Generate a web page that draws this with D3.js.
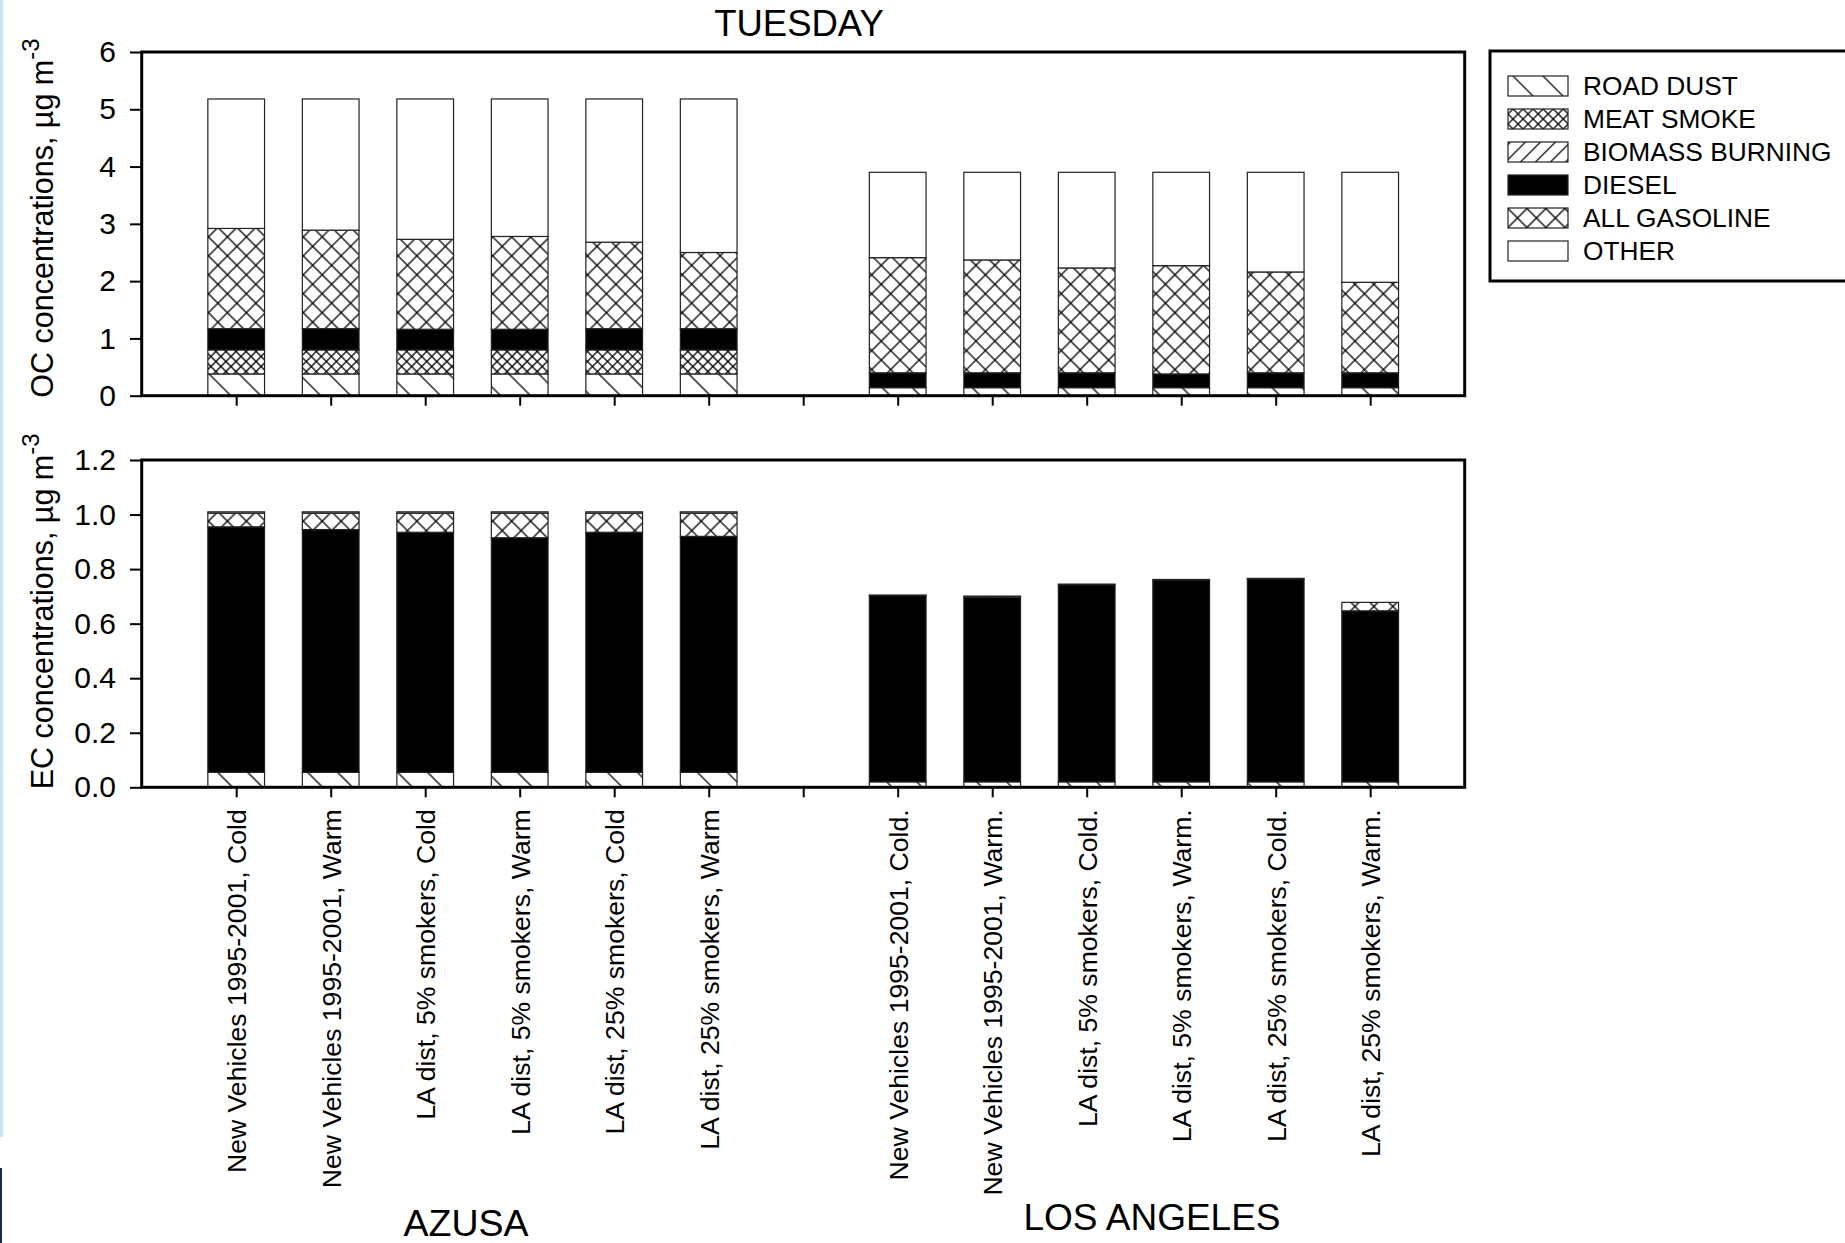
<!DOCTYPE html>
<html>
<head>
<meta charset="utf-8">
<script src="https://cdn.jsdelivr.net/npm/d3@7"></script>
<style>
  body { margin: 0; background: #fff; }
  svg { display: block; font-family: "Liberation Sans", Arial, Helvetica, sans-serif; }
</style>
</head>
<body>
<svg id="chart" width="1845" height="1243"></svg>
<script>
// x categories, the empty one is the gap between the two sites
const azusaCases = ["New Vehicles 1995-2001, Cold", "New Vehicles 1995-2001, Warm", "LA dist, 5% smokers, Cold",
  "LA dist, 5% smokers, Warm", "LA dist, 25% smokers, Cold", "LA dist, 25% smokers, Warm"];
const laCases = ["New Vehicles 1995-2001, Cold.", "New Vehicles 1995-2001, Warm.", "LA dist, 5% smokers, Cold.",
  "LA dist, 5% smokers, Warm.", "LA dist, 25% smokers, Cold.", "LA dist, 25% smokers, Warm."];
const categories = [...azusaCases, "", ...laCases];
const cases = [...azusaCases, ...laCases];

const sources = ["ROAD DUST", "MEAT SMOKE", "BIOMASS BURNING", "DIESEL", "ALL GASOLINE", "OTHER"];

// OC, ug m-3 (6 Azusa cases then 6 Los Angeles cases)
const ocRoadDust = [0.38, 0.38, 0.38, 0.38, 0.38, 0.38, 0.14, 0.14, 0.14, 0.14, 0.14, 0.14];
const ocMeatSmoke = [0.42, 0.42, 0.42, 0.42, 0.42, 0.42, 0, 0, 0, 0, 0, 0];
const ocBiomass = [0, 0, 0, 0, 0, 0, 0, 0, 0, 0, 0, 0];
const ocDiesel = [0.37, 0.37, 0.36, 0.36, 0.37, 0.37, 0.26, 0.26, 0.26, 0.24, 0.26, 0.26];
const ocGasoline = [1.75, 1.72, 1.57, 1.62, 1.51, 1.33, 2.01, 1.97, 1.83, 1.89, 1.76, 1.58];
const ocOther = [2.26, 2.29, 2.45, 2.40, 2.50, 2.68, 1.49, 1.53, 1.67, 1.63, 1.74, 1.92];

// EC, ug m-3
const ecRoadDust = [0.055, 0.055, 0.055, 0.055, 0.055, 0.055, 0.02, 0.02, 0.02, 0.02, 0.02, 0.02];
const ecMeatSmoke = [0, 0, 0, 0, 0, 0, 0, 0, 0, 0, 0, 0];
const ecBiomass = [0, 0, 0, 0, 0, 0, 0, 0, 0, 0, 0, 0];
const ecDiesel = [0.90, 0.89, 0.88, 0.86, 0.88, 0.865, 0.683, 0.677, 0.723, 0.74, 0.744, 0.627];
const ecGasoline = [0.05, 0.06, 0.07, 0.09, 0.07, 0.085, 0.002, 0.004, 0.002, 0.002, 0.002, 0.031];
const ecOther = [0.005, 0.005, 0.005, 0.005, 0.005, 0.005, 0, 0, 0, 0, 0, 0];

const ocTicks = [0, 1, 2, 3, 4, 5, 6];
const ecTicks = [0, 0.2, 0.4, 0.6, 0.8, 1.0, 1.2];

const svg = d3.select("#chart");
const defs = svg.append("defs");

const left = 141.7;
const right = 1464.7;

// edge strip on the left of the picture
svg.append("rect").attr("x", 0).attr("y", 0).attr("width", 3).attr("height", 1137).attr("fill", "#c6e7f8");
svg.append("rect").attr("x", 0).attr("y", 1168).attr("width", 2).attr("height", 75).attr("fill", "#15295c");

// hatch patterns, one per source
function hatch(id, size, angle, cross) {
  const p = defs.append("pattern")
    .attr("id", id)
    .attr("patternUnits", "userSpaceOnUse")
    .attr("width", size)
    .attr("height", size)
    .attr("patternTransform", `rotate(${angle})`);
  p.append("rect").attr("width", size).attr("height", size).attr("fill", "#fff");
  p.append("line")
    .attr("x1", size / 2).attr("y1", 0).attr("x2", size / 2).attr("y2", size)
    .attr("stroke", "#000").attr("stroke-width", 1.3);
  if (cross) {
    p.append("line")
      .attr("x1", 0).attr("y1", size / 2).attr("x2", size).attr("y2", size / 2)
      .attr("stroke", "#000").attr("stroke-width", 1.3);
  }
}
hatch("roadDust", 21.2, -45, false);
hatch("meatSmoke", 7.1, 45, true);
hatch("biomass", 10.6, 45, false);
hatch("gasoline", 13.4, 45, true);

const fills = {
  "ROAD DUST": "url(#roadDust)",
  "MEAT SMOKE": "url(#meatSmoke)",
  "BIOMASS BURNING": "url(#biomass)",
  "DIESEL": "#000",
  "ALL GASOLINE": "url(#gasoline)",
  "OTHER": "#fff",
};

const x = d3.scalePoint().domain(categories).range([left, right]).padding(1);
const barWidth = x.step() * 0.6;

function makeRows(series) {
  return cases.map((c, i) => {
    const row = { category: c };
    sources.forEach((s, k) => (row[s] = series[k][i]));
    return row;
  });
}

function drawPanel(top, bottom, yMax, ticks, fmt, series, title, showLabels) {
  const y = d3.scaleLinear().domain([0, yMax]).range([bottom, top]);
  const stacked = d3.stack().keys(sources)(makeRows(series));
  const g = svg.append("g");

  stacked.forEach((layer) => {
    g.append("g")
      .selectAll("rect")
      .data(layer.filter((d) => d[1] - d[0] > 0))
      .join("rect")
      .attr("x", (d) => x(d.data.category) - barWidth / 2)
      .attr("y", (d) => y(d[1]))
      .attr("width", barWidth)
      .attr("height", (d) => y(d[0]) - y(d[1]))
      .attr("fill", fills[layer.key])
      .attr("stroke", "#222")
      .attr("stroke-width", 1.2);
  });

  // y axis
  const yAxis = g.append("g")
    .attr("transform", `translate(${left},0)`)
    .call(d3.axisLeft(y).tickValues(ticks).tickFormat(fmt).tickSize(11.7).tickPadding(14));
  yAxis.select(".domain").remove();
  yAxis.selectAll("line").attr("stroke", "#000").attr("stroke-width", 2);
  yAxis.selectAll("text").attr("font-size", 30).attr("fill", "#000");

  // x axis
  const xAxis = g.append("g")
    .attr("transform", `translate(0,${bottom})`)
    .call(d3.axisBottom(x).tickSize(10).tickFormat((d) => (showLabels ? d : "")));
  xAxis.select(".domain").remove();
  xAxis.selectAll("line").attr("stroke", "#000").attr("stroke-width", 2);
  xAxis.selectAll("text")
    .attr("font-size", 26.6)
    .attr("fill", "#000")
    .attr("transform", "rotate(-90)")
    .attr("x", -22)
    .attr("y", 0)
    .attr("dy", "0.35em")
    .attr("text-anchor", "end");

  // frame
  g.append("rect")
    .attr("x", left).attr("y", top)
    .attr("width", right - left).attr("height", bottom - top)
    .attr("fill", "none").attr("stroke", "#000").attr("stroke-width", 3);

  // y title with superscript
  const t = g.append("text")
    .attr("transform", `translate(53,${bottom + 2}) rotate(-90)`)
    .attr("font-size", 30.5)
    .attr("text-anchor", "start");
  t.append("tspan").text(`${title} concentrations, \u00b5g m`);
  t.append("tspan").attr("font-size", 24).attr("dy", -14).text("-3");
}

drawPanel(52, 395.7, 6, ocTicks, d3.format("d"),
  [ocRoadDust, ocMeatSmoke, ocBiomass, ocDiesel, ocGasoline, ocOther], "OC", false);
drawPanel(460, 787.3, 1.2, ecTicks, d3.format(".1f"),
  [ecRoadDust, ecMeatSmoke, ecBiomass, ecDiesel, ecGasoline, ecOther], "EC", true);

// titles
svg.append("text").attr("x", 799).attr("y", 36).attr("text-anchor", "middle")
  .attr("font-size", 36.5).text("TUESDAY");
svg.append("text").attr("x", 466).attr("y", 1236).attr("text-anchor", "middle")
  .attr("font-size", 37.5).text("AZUSA");
svg.append("text").attr("x", 1152).attr("y", 1230).attr("text-anchor", "middle")
  .attr("font-size", 37).text("LOS ANGELES");

// legend
const legend = svg.append("g");
legend.append("rect")
  .attr("x", 1490).attr("y", 51).attr("width", 420).attr("height", 230)
  .attr("fill", "#fff").attr("stroke", "#000").attr("stroke-width", 3);
const rows = legend.selectAll("g.item")
  .data(sources)
  .join("g")
  .attr("class", "item")
  .attr("transform", (d, i) => `translate(1508,${86 + i * 33})`);
rows.append("rect")
  .attr("x", 0).attr("y", -10).attr("width", 60).attr("height", 20)
  .attr("fill", (d) => fills[d]).attr("stroke", "#222").attr("stroke-width", 1.2);
rows.append("text")
  .attr("x", 75).attr("y", 0).attr("dy", "0.36em")
  .attr("font-size", 26.3).text((d) => d);
</script>
</body>
</html>
